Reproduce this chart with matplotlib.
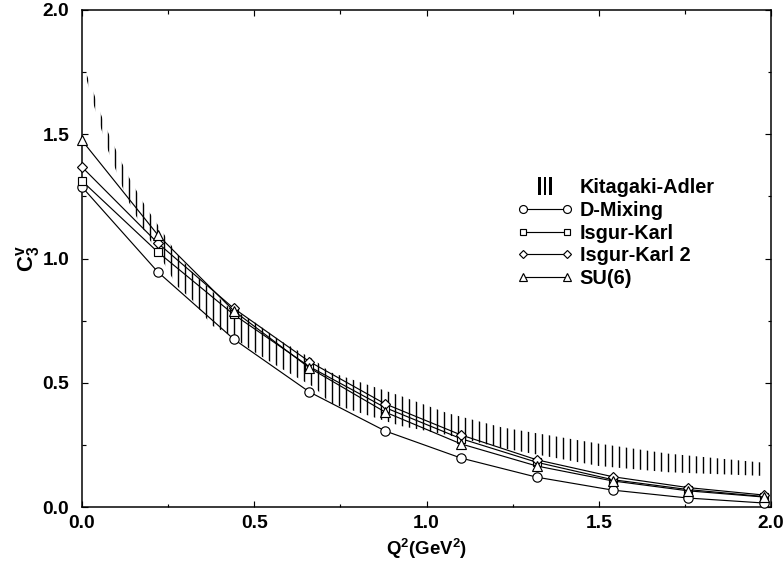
import matplotlib
matplotlib.use('Agg')
import matplotlib.pyplot as plt
from matplotlib.lines import Line2D
from matplotlib.legend_handler import HandlerLine2D
from matplotlib.ticker import MultipleLocator

# ---- data ----
q2 = [0.0, 0.22, 0.44, 0.66, 0.88, 1.10, 1.32, 1.54, 1.76, 1.98]
d_mixing = [1.288, 0.946, 0.676, 0.463, 0.306, 0.197, 0.120, 0.068, 0.036, 0.016]
isgur_karl = [1.312, 1.026, 0.775, 0.565, 0.400, 0.275, 0.180, 0.110, 0.070, 0.042]
isgur_karl2 = [1.368, 1.062, 0.800, 0.585, 0.415, 0.290, 0.190, 0.122, 0.078, 0.048]
su6 = [1.475, 1.095, 0.790, 0.560, 0.382, 0.254, 0.165, 0.105, 0.065, 0.040]

ka_q2 = [0.013, 0.035, 0.055, 0.075, 0.096, 0.116, 0.136, 0.157, 0.177, 0.197,
         0.218, 0.275, 0.32, 0.377, 0.42, 0.50, 0.575, 0.676, 0.72, 0.925,
         1.06, 1.22, 1.50, 1.70, 1.98]
ka_upper = [1.742, 1.662, 1.58, 1.51, 1.445, 1.384, 1.328, 1.276, 1.227, 1.183,
            1.14, 1.02, 0.946, 0.87, 0.81, 0.745, 0.67, 0.59, 0.543, 0.447,
            0.378, 0.32, 0.255, 0.215, 0.178]
ka_lower = [1.722, 1.614, 1.525, 1.437, 1.364, 1.292, 1.227, 1.171, 1.12, 1.074,
            1.03, 0.89, 0.833, 0.73, 0.70, 0.624, 0.56, 0.48, 0.418, 0.326,
            0.29, 0.237, 0.165, 0.14, 0.125]

xticks = [0.0, 0.5, 1.0, 1.5, 2.0]
yticks = [0.0, 0.5, 1.0, 1.5, 2.0]

DPI = 84
plt.rcParams['font.family'] = ['Liberation Sans', 'DejaVu Sans']
plt.rcParams['font.weight'] = 'bold'
plt.rcParams['hatch.linewidth'] = 1.2
plt.rcParams['mathtext.fontset'] = 'custom'
plt.rcParams['mathtext.rm'] = 'Liberation Sans:bold'
plt.rcParams['mathtext.bf'] = 'Liberation Sans:bold'
plt.rcParams['mathtext.it'] = 'Liberation Sans:bold'

fig = plt.figure(figsize=(783 / DPI, 565 / DPI), dpi=DPI)
ax = fig.add_axes([82 / 783, 1 - 507 / 565, 689 / 783, 497 / 565])

ax.fill_between(ka_q2, ka_lower, ka_upper, facecolor='none', edgecolor='black',
                hatch='||', linewidth=0)

lw = 1.0
kw = dict(color='black', linewidth=lw, markerfacecolor='white',
          markeredgecolor='black', markeredgewidth=1.0, clip_on=False, zorder=3)
ax.plot(q2, d_mixing, marker='o', markersize=8, label='D-Mixing', **kw)
ax.plot(q2, isgur_karl, marker='s', markersize=7, label='Isgur-Karl', **kw)
ax.plot(q2, isgur_karl2, marker='D', markersize=5.5, label='Isgur-Karl 2', **kw)
ax.plot(q2, su6, marker='^', markersize=8, label='SU(6)', **kw)

ax.set_xlim(0, 2)
ax.set_ylim(0, 2)
ax.set_xticks(xticks)
ax.set_yticks(yticks)
ax.set_xticklabels([f'{v:.1f}' for v in xticks])
ax.set_yticklabels([f'{v:.1f}' for v in yticks])
ax.xaxis.set_minor_locator(MultipleLocator(0.25))
ax.yaxis.set_minor_locator(MultipleLocator(0.25))
ax.tick_params(which='both', direction='in', top=True, right=True, width=1.0)
ax.tick_params(which='major', length=5, labelsize=16.5)
ax.tick_params(axis='x', which='major', pad=7)
ax.tick_params(axis='y', which='major', pad=11)
ax.tick_params(which='minor', length=3)
for lab in ax.get_xticklabels() + ax.get_yticklabels():
    lab.set_fontweight('bold')
for s in ax.spines.values():
    s.set_linewidth(1.3)

ax.set_xlabel(r'Q$^\mathbf{2}$(GeV$^\mathbf{2}$)', fontsize=16, fontweight='bold', labelpad=4)
ax.set_ylabel(r'$\mathbf{C_3^v}$', fontsize=19, fontweight='bold', labelpad=0)

ka_handle = Line2D([], [], linestyle='none', marker=r'$|||$', markersize=19,
                   color='black', markeredgewidth=0)
handles, labels = ax.get_legend_handles_labels()
handles = [ka_handle] + handles
labels = ['Kitagaki-Adler'] + labels
leg = ax.legend(handles, labels, loc='upper left', bbox_to_anchor=(0.631, 0.662),
                borderaxespad=0, borderpad=0, frameon=False, numpoints=2,
                handlelength=2.83, handletextpad=0.35, labelspacing=0.19,
                markerscale=0.85,
                prop={'size': 17, 'weight': 'bold'},
                handler_map={ka_handle: HandlerLine2D(numpoints=1)})

fig.savefig('out.png', dpi=DPI)
